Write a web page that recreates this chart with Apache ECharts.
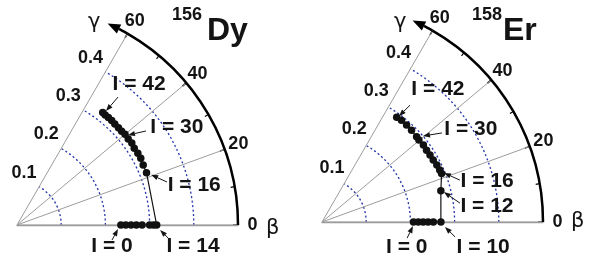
<!DOCTYPE html>
<html><head><meta charset="utf-8">
<script src="https://cdn.jsdelivr.net/npm/echarts@6/dist/echarts.min.js"></script>
<style>html,body{margin:0;padding:0;background:#fff}#c{width:590px;height:261px}</style>
</head><body><div id="c"></div>
<script>
// ---- data ----
const radiusTicks = [0.1, 0.2, 0.3, 0.4];
const angleTicks = [0, 20, 40, 60];
const massNumbers = ['156', '158'];
const elements = ['Dy', 'Er'];
// trajectories [beta, gamma(deg)]
const dyPath = [[0.235,0],[0.246,0],[0.258,0],[0.270,0],[0.283,0],[0.300,0],[0.309,0],[0.316,0],
  [0.316,22.0],[0.316,25.4],[0.318,28.3],[0.318,30.7],[0.317,33.2],[0.319,35.5],[0.318,37.7],
  [0.319,40.0],[0.318,41.9],[0.318,43.8],[0.318,45.9],[0.319,47.8],[0.319,49.6],[0.319,51.3],[0.320,52.7]];
const erPath = [[0.207,0],[0.218,0],[0.229,0],[0.240,0],[0.252,0],[0.269,0],
  [0.278,14.7],[0.292,22.1],[0.291,23.8],[0.290,26.4],[0.288,29.1],[0.2875,31.8],[0.287,34.5],
  [0.288,37.2],[0.287,40.2],[0.288,42.0],[0.290,45.7],[0.291,48.9],[0.292,52.0],[0.291,54.5]];
// annotations: text, arrow tip, arrow tail, label centre (all [beta, gamma])
const dyNotes = [
  {text:'I = 42', tip:[0.327,52.0], tail:[0.369,51.7], label:[0.422,49.1]},
  {text:'I = 30', tip:[0.323,39.0], tail:[0.361,36.1], label:[0.424,31.5]},
  {text:'I = 16', tip:[0.324,20.5], tail:[0.353,16.0], label:[0.411,12.7]},
  {text:'I = 0',  tip:[0.2287,-2.3], tail:[0.2176,-9.0], label:[0.220,-12.5]},
  {text:'I = 14', tip:[0.324,-2.0], tail:[0.348,-5.6], label:[0.401,-6.8]}
];
const erNotes = [
  {text:'I = 42', tip:[0.296,54.0], tail:[0.331,53.0], label:[0.399,48.9]},
  {text:'I = 30', tip:[0.300,40.4], tail:[0.338,36.6], label:[0.397,32.0]},
  {text:'I = 16', tip:[0.2975,21.9], tail:[0.326,16.9], label:[0.385,14.0]},
  {text:'I = 12', tip:[0.284,13.8], tail:[0.315,7.8], label:[0.375,5.5]},
  {text:'I = 0',  tip:[0.206,-2.5], tail:[0.196,-10.7], label:[0.200,-16.4]},
  {text:'I = 10', tip:[0.2785,-2.3], tail:[0.303,-6.4], label:[0.369,-8.8]}
];

// ---- chart ----
const FONT = '"Liberation Sans", Arial, sans-serif';
const INK = '#141414';
const chart = echarts.init(document.getElementById('c'), null, {renderer:'canvas'});
const panels = [
  {center:[17,225], path:dyPath, notes:dyNotes, labOff:[-15,-14]},
  {center:[322,222], path:erPath, notes:erNotes, labOff:[-12,-16]}
];
function annRender(notes){
  return function(params, api){
    const n = notes[params.dataIndex];
    const tip = api.coord(n.tip), tail = api.coord(n.tail), lab = api.coord(n.label);
    const ang = Math.atan2(tip[1]-tail[1], tip[0]-tail[0]);
    const L = 7, W = 2.6;
    const bx = tip[0]-L*Math.cos(ang), by = tip[1]-L*Math.sin(ang);
    const px = -Math.sin(ang)*W, py = Math.cos(ang)*W;
    return {type:'group', children:[
      {type:'line', shape:{x1:tail[0],y1:tail[1],x2:bx,y2:by}, style:{stroke:INK, lineWidth:1}},
      {type:'polygon', shape:{points:[[tip[0],tip[1]],[bx+px,by+py],[bx-px,by-py]]}, style:{fill:INK}},
      {type:'text', x:lab[0], y:lab[1], style:{text:n.text, font:'bold 21px '+FONT, fill:INK, align:'center', verticalAlign:'middle'}}
    ]};
  };
}
function angleLabelRender(params, api){
  const a = api.value(1);
  const p = api.coord([api.value(0), a]);
  return {type:'text', x:p[0], y:p[1], style:{text:String(angleTicks[params.dataIndex]), font:'bold 18px '+FONT, fill:INK, align:'center', verticalAlign:'middle'}};
}
function arcArrowRender(params, api){
  const pts = [];
  for (let a = 60; a <= 62.5; a += 0.5) pts.push(api.coord([0.5, a]));
  const tip = api.coord([0.5, 65.8]);
  const base = pts[pts.length-1];
  const ang = Math.atan2(tip[1]-base[1], tip[0]-base[0]);
  const W = 5;
  const px = -Math.sin(ang)*W, py = Math.cos(ang)*W;
  return {type:'group', children:[
    {type:'polyline', shape:{points:pts}, style:{stroke:'#000', lineWidth:2.5, fill:null}},
    {type:'polygon', shape:{points:[tip,[base[0]+px,base[1]+py],[base[0]-px,base[1]-py]]}, style:{fill:'#000'}}
  ]};
}
const labelStyle = {fontSize:18, fontWeight:'bold', color:INK, fontFamily:FONT};
const option = {
  animation:false,
  polar: panels.map(p => ({center:p.center, radius:221})),
  angleAxis: panels.map((p,i) => ({
    polarIndex:i, type:'value', min:0, max:60, interval:20,
    startAngle:0, endAngle:60, clockwise:false,
    axisLine:{lineStyle:{color:'#000', width:2.5}},
    axisTick:{inside:true, length:5, lineStyle:{color:'#000', width:1.5}},
    minorTick:{show:true, splitNumber:2, length:4, lineStyle:{color:'#000', width:1.2}},
    axisLabel:{show:false},
    splitLine:{show:true, lineStyle:{color:'#9c9c9c', width:1}}
  })),
  radiusAxis: panels.map((p,i) => ({
    polarIndex:i, type:'value', min:0, max:0.5, interval:0.1,
    axisLine:{lineStyle:{color:'#9c9c9c', width:1.3}},
    axisTick:{show:false}, axisLabel:{show:false},
    splitLine:{show:true, lineStyle:{color:'#2232a8', type:[2,2.5], width:1.3}}
  })),
  series: [],
  graphic: []
};
panels.forEach((p,i) => {
  option.series.push({
    type:'line', coordinateSystem:'polar', polarIndex:i, data:p.path,
    symbol:'circle', symbolSize:7.5, showSymbol:true,
    itemStyle:{color:'#111'}, lineStyle:{color:'#111', width:1.2}, z:5
  });
  // radius tick labels along the 60 degree line
  option.series.push({
    type:'scatter', coordinateSystem:'polar', polarIndex:i,
    data: radiusTicks.map(r => [r, 60]), symbolSize:0, silent:true,
    itemStyle:{opacity:1},
    label:Object.assign({show:true, position:'inside', offset:p.labOff, formatter:d => d.value[0].toFixed(1)}, labelStyle)
  });
  // angle tick labels outside the arc
  option.series.push({
    type:'custom', coordinateSystem:'polar', polarIndex:i, clip:false, silent:true,
    data: angleTicks.map(a => [0.533, a]), renderItem: angleLabelRender, z:6
  });
  option.series.push({
    type:'custom', coordinateSystem:'polar', polarIndex:i, clip:false,
    data: p.notes.map(n => n.tip), renderItem: annRender(p.notes), z:6
  });
  option.series.push({
    type:'custom', coordinateSystem:'polar', polarIndex:i, clip:false,
    data: [[0.5, 60]], renderItem: arcArrowRender, z:6
  });
});
// titles and axis symbols
const titlePos = [[172, 6, 207, 15], [472, 6, 503, 15]];
const gammaPos = [[88, 12], [394, 12]];
const betaPos = [[266, 218], [571, 211]];
panels.forEach((p,i) => {
  option.graphic.push({type:'text', left:titlePos[i][0], top:titlePos[i][1], style:{text:massNumbers[i], font:'bold 18px '+FONT, fill:INK}});
  option.graphic.push({type:'text', left:titlePos[i][2], top:titlePos[i][3], style:{text:elements[i], font:'bold 32px '+FONT, fill:INK}});
  option.graphic.push({type:'text', left:gammaPos[i][0], top:gammaPos[i][1], style:{text:'γ', font:'21px "DejaVu Sans", '+FONT, fill:INK}});
  option.graphic.push({type:'text', left:betaPos[i][0], top:betaPos[i][1], style:{text:'β', font:'21px "DejaVu Sans", '+FONT, fill:INK}});
});
chart.setOption(option);
</script>
</body></html>
